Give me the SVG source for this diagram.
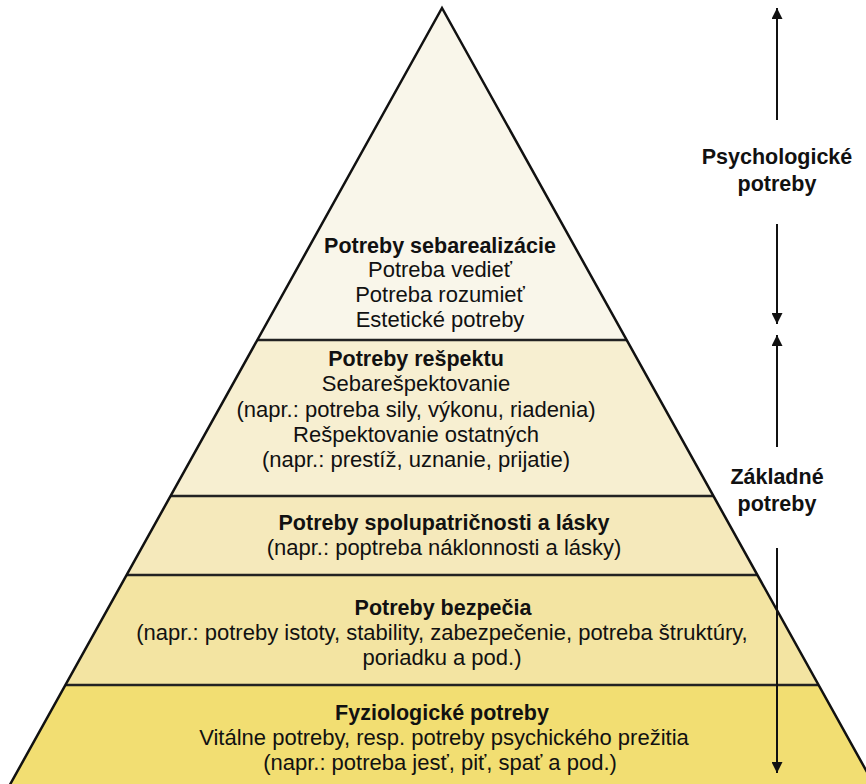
<svg xmlns="http://www.w3.org/2000/svg" width="866" height="784" viewBox="0 0 866 784">
<defs>
<style>
.t{font-family:"Liberation Sans",Arial,sans-serif;font-size:22px;fill:#111;text-anchor:middle}
.b{font-weight:bold;font-size:21.5px}
.band{stroke:none}
.div{stroke:#222;stroke-width:2.5;fill:none}
.edge{stroke:#111;stroke-width:2.5;fill:none;stroke-linejoin:miter}
.arr{stroke:#111;stroke-width:2;fill:none}
</style>
<marker id="ah" viewBox="0 0 10 10" refX="10" refY="5" markerWidth="5.5" markerHeight="5.5" orient="auto" markerUnits="strokeWidth">
<path d="M0,0 L10,5 L0,10 z" fill="#111"/>
</marker>
</defs>
<rect width="866" height="784" fill="#fff"/>
<g id="level-self-actualization">
<polygon class="band" fill="#f9f6ea" points="442,8 257,340 627,340"/>
<text class="t b" x="440" y="253">Potreby sebarealizácie</text>
<text class="t" x="440" y="277">Potreba vedieť</text>
<text class="t" x="440" y="302">Potreba rozumieť</text>
<text class="t" x="440" y="327">Estetické potreby</text>
</g>
<g id="level-esteem">
<polygon class="band" fill="#f7efd1" points="257,340 627,340 714,496 170,496"/>
<text class="t b" x="416" y="366">Potreby rešpektu</text>
<text class="t" x="416" y="391">Sebarešpektovanie</text>
<text class="t" x="416" y="417">(napr.: potreba sily, výkonu, riadenia)</text>
<text class="t" x="416" y="442">Rešpektovanie ostatných</text>
<text class="t" x="416" y="467">(napr.: prestíž, uznanie, prijatie)</text>
</g>
<g id="level-belonging">
<polygon class="band" fill="#f5e9bb" points="170,496 714,496 758,575 126,575"/>
<text class="t b" x="444" y="530">Potreby spolupatričnosti a lásky</text>
<text class="t" x="444" y="555">(napr.: poptreba náklonnosti a lásky)</text>
</g>
<g id="level-safety">
<polygon class="band" fill="#f3e4a2" points="126,575 758,575 819,685 65,685"/>
<text class="t b" x="443" y="615">Potreby bezpečia</text>
<text class="t" x="442" y="640">(napr.: potreby istoty, stability, zabezpečenie, potreba štruktúry,</text>
<text class="t" x="442" y="665">poriadku a pod.)</text>
</g>
<g id="level-physiological">
<polygon class="band" fill="#f2de72" points="65,685 819,685 877,790 7,790"/>
<text class="t b" x="442" y="720">Fyziologické potreby</text>
<text class="t" x="444" y="745">Vitálne potreby, resp. potreby psychického prežitia</text>
<text class="t" x="440" y="770">(napr.: potreba jesť, piť, spať a pod.)</text>
</g>
<g id="dividers">
<line class="div" x1="257" y1="340" x2="627" y2="340"/>
<line class="div" x1="170" y1="496" x2="714" y2="496"/>
<line class="div" x1="126" y1="575" x2="758" y2="575"/>
<line class="div" x1="65" y1="685" x2="819" y2="685"/>
<polyline class="edge" points="7,790 442,8 877,790"/>
</g>
<g id="label-psychological">
<text class="t b" x="777" y="164">Psychologické</text>
<text class="t b" x="777" y="191">potreby</text>
</g>
<g id="label-basic">
<text class="t b" x="777" y="484">Základné</text>
<text class="t b" x="777" y="511">potreby</text>
</g>
<g id="connectors">
<line class="arr" x1="777" y1="120" x2="777" y2="8" marker-end="url(#ah)"/>
<line class="arr" x1="777" y1="224" x2="777" y2="324" marker-end="url(#ah)"/>
<line class="arr" x1="777" y1="447" x2="777" y2="335" marker-end="url(#ah)"/>
<line class="arr" x1="777" y1="548" x2="777" y2="773" marker-end="url(#ah)"/>
</g>
</svg>
